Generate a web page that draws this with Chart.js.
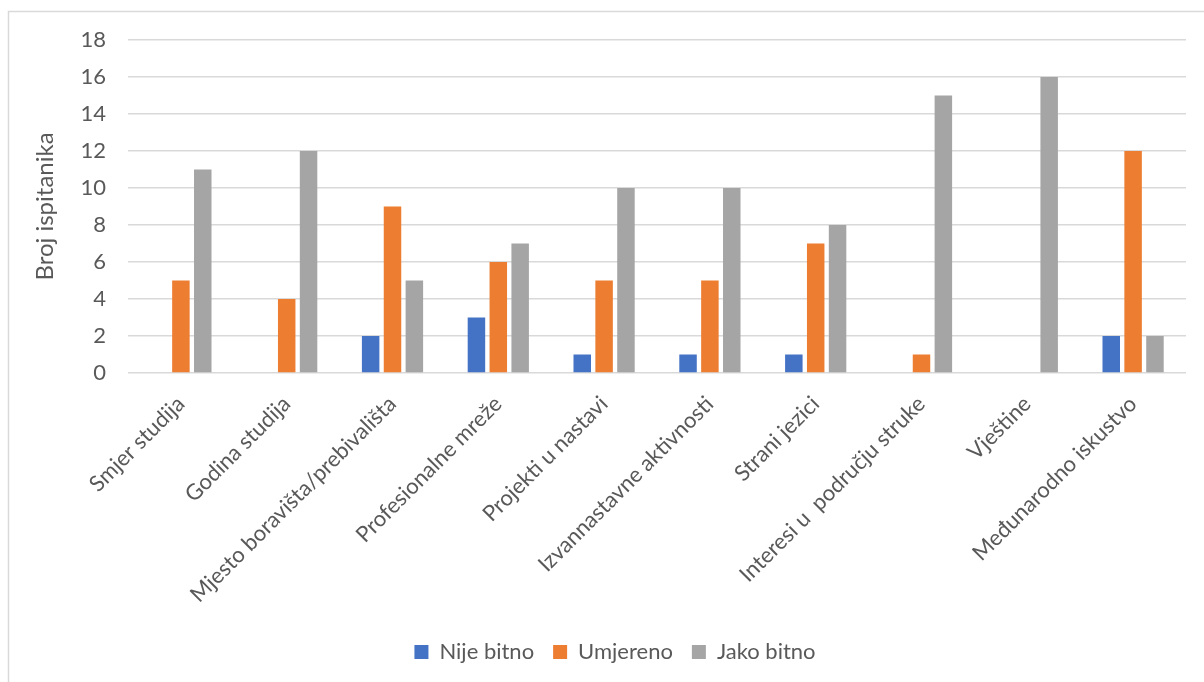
<!DOCTYPE html>
<html>
<head>
<meta charset="utf-8">
<script src="https://cdn.jsdelivr.net/npm/chart.js@4"></script>
<style>
html,body{margin:0;padding:0;background:#fff;}
canvas{display:block;}
</style>
</head>
<body>
<canvas id="c" width="1204" height="682"></canvas>
<script>
const categories = [
  "Smjer studija",
  "Godina studija",
  "Mjesto boravišta/prebivališta",
  "Profesionalne mreže",
  "Projekti u nastavi",
  "Izvannastavne aktivnosti",
  "Strani jezici",
  "Interesi u  području struke",
  "Vještine",
  "Međunarodno iskustvo"
];
const seriesNames = ["Nije bitno", "Umjereno", "Jako bitno"];
const nijeBitno = [0, 0, 2, 3, 1, 1, 1, 0, 0, 2];
const umjereno  = [5, 4, 9, 6, 5, 5, 7, 1, 0, 12];
const jakoBitno = [11, 12, 5, 7, 10, 10, 8, 15, 16, 2];
const yTitle = "Broj ispitanika";
const yMin = 0, yMax = 18, yStep = 2;

const FONT = "Lato";
const TXT = "#595959";
const GRID = "#d9d9d9";

const framePlugin = {
  id: 'frame',
  beforeDraw(chart) {
    const ctx = chart.ctx;
    ctx.save();
    ctx.fillStyle = '#fff';
    ctx.fillRect(0, 0, chart.width, chart.height);
    ctx.strokeStyle = GRID;
    ctx.lineWidth = 1.5;
    ctx.beginPath();
    ctx.moveTo(8.5, 682);
    ctx.lineTo(8.5, 11.5);
    ctx.lineTo(1204, 11.5);
    ctx.stroke();
    ctx.restore();
  },
  afterLayout(chart) {
    if (chart.legend) {
      chart.legend.left += 22;
      chart.legend.right += 22;
    }
  }
};

new Chart(document.getElementById('c'), {
  type: 'bar',
  data: {
    labels: categories,
    datasets: [
      { label: seriesNames[0], data: nijeBitno, backgroundColor: '#4472C4' },
      { label: seriesNames[1], data: umjereno, backgroundColor: '#ED7D31' },
      { label: seriesNames[2], data: jakoBitno, backgroundColor: '#A5A5A5' }
    ]
  },
  options: {
    responsive: false,
    devicePixelRatio: 1,
    animation: false,
    categoryPercentage: 0.62,
    barPercentage: 0.8,
    layout: { padding: { top: 40, right: 18, bottom: 9, left: 0 } },
    plugins: {
      legend: {
        position: 'bottom',
        labels: {
          font: { family: FONT, size: 22 },
          color: TXT,
          boxWidth: 14,
          boxHeight: 14,
          padding: 19
        }
      },
      tooltip: { enabled: false }
    },
    scales: {
      x: {
        grid: { display: false, drawTicks: false },
        border: { display: false },
        ticks: {
          autoSkip: false,
          maxRotation: 45,
          minRotation: 45,
          font: { family: FONT, size: 22 },
          color: TXT,
          padding: 18
        },
        afterFit(scale) { scale.height = 249; }
      },
      y: {
        min: yMin,
        max: yMax,
        ticks: {
          stepSize: yStep,
          font: { family: FONT, size: 22 },
          color: TXT,
          padding: 22
        },
        grid: { color: GRID, lineWidth: 1.5, drawTicks: false },
        border: { display: false },
        title: {
          display: true,
          text: yTitle,
          font: { family: FONT, size: 24 },
          color: TXT,
          padding: { top: 31, bottom: 0 }
        },
        afterFit(scale) { scale.width = 128; }
      }
    }
  },
  plugins: [framePlugin]
});
</script>
</body>
</html>
